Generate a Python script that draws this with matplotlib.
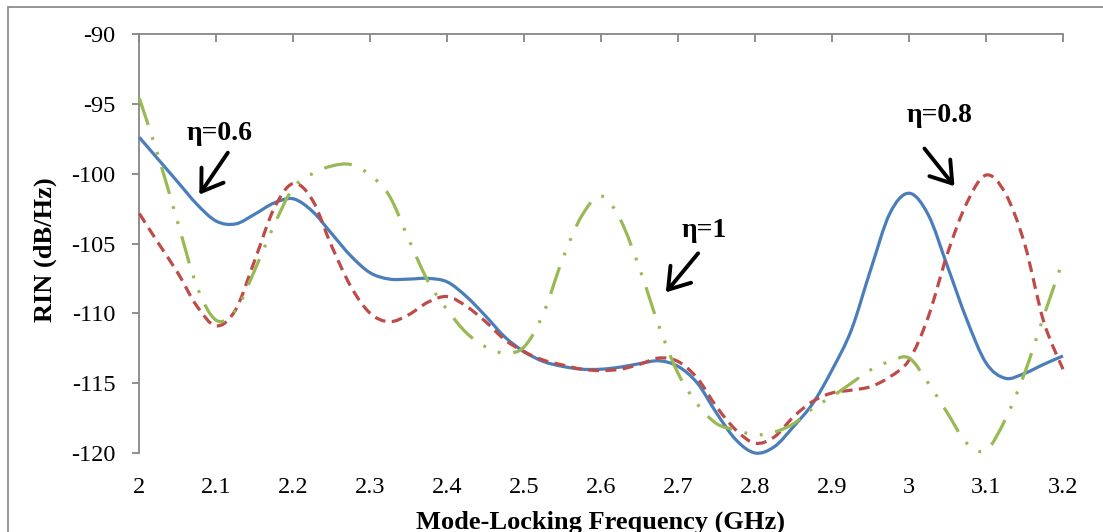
import numpy as np
import matplotlib
matplotlib.use("Agg")
import matplotlib.pyplot as plt
from matplotlib.patches import Rectangle, PathPatch
from matplotlib.path import Path

plt.rcParams['font.family'] = ['Liberation Serif', 'DejaVu Serif']
plt.rcParams['axes.unicode_minus'] = False

# frequency samples (GHz)
freq = np.round(np.arange(2.0, 3.2001, 0.025), 3)

rin_06 = [-97.4, -99.0, -100.6, -102.2, -103.4, -103.6, -102.9, -102.1, -101.8,
          -102.7, -104.3, -105.9, -107.1, -107.55, -107.55, -107.5, -107.75,
          -108.8, -110.2, -111.7, -112.75, -113.45, -113.8, -114.0, -114.0,
          -113.85, -113.6, -113.4, -113.8, -115.0, -117.15, -119.05, -120.0,
          -119.55, -118.1, -116.45, -114.05, -111.2, -106.9, -102.85, -101.4,
          -102.95, -106.65, -110.45, -113.55, -114.65, -114.3, -113.65, -113.05]

rin_08 = [-102.85, -105.0, -107.1, -109.5, -110.9, -109.75, -106.2, -102.5, -100.7,
          -101.9, -105.2, -108.1, -110.0, -110.6, -110.1, -109.2, -108.8,
          -109.5, -110.6, -111.9, -112.75, -113.35, -113.7, -114.0, -114.1,
          -114.0, -113.65, -113.2, -113.45, -114.65, -116.7, -118.35, -119.3,
          -118.85, -117.4, -116.3, -115.7, -115.5, -115.25, -114.55, -113.35,
          -110.25, -105.7, -102.1, -100.1, -101.4, -105.0, -110.6, -114.0]

rin_1 = [-94.6, -98.8, -103.5, -108.1, -110.5, -109.8, -106.9, -103.7, -101.0,
         -100.0, -99.45, -99.35, -100.1, -101.6, -104.7, -107.7, -109.75,
         -111.4, -112.4, -112.85, -112.4, -110.0, -106.1, -103.0, -101.6,
         -103.3, -106.8, -110.9, -114.3, -116.5, -117.9, -118.35, -118.7,
         -118.5, -117.9, -116.8, -115.95, -115.0, -114.05, -113.45, -113.2,
         -115.0, -117.15, -119.3, -119.8, -117.6, -114.3, -110.2, -106.2]

xticks = np.round(np.arange(2.0, 3.2001, 0.1), 1)
xlabels = ['2', '2.1', '2.2', '2.3', '2.4', '2.5', '2.6', '2.7', '2.8', '2.9', '3', '3.1', '3.2']
yticks = [-120, -115, -110, -105, -100, -95, -90]


def smooth_path(x, y):
    # Excel-like "smoothed line": bezier segments through every data point
    x = np.asarray(x, float)
    y = np.asarray(y, float)
    verts = [(x[0], y[0])]
    codes = [Path.MOVETO]
    n = len(x)
    for i in range(n - 1):
        i0, i3 = max(i - 1, 0), min(i + 2, n - 1)
        c1 = (x[i] + (x[i+1] - x[i0]) / 6, y[i] + (y[i+1] - y[i0]) / 6)
        c2 = (x[i+1] - (x[i3] - x[i]) / 6, y[i+1] - (y[i3] - y[i]) / 6)
        verts += [c1, c2, (x[i+1], y[i+1])]
        codes += [Path.CURVE4] * 3
    return Path(verts, codes)


W, H = 1103, 532
fig = plt.figure(figsize=(W/100, H/100), dpi=100)
ax = fig.add_axes([139.3/W, 1-453/H, (1063-139.3)/W, (453-34)/H])

# outer chart frame (runs off right/bottom edge as in the original)
fig.patches.append(Rectangle((8/W, -0.1), 1.2, 1-7/H+0.1, transform=fig.transFigure,
                             fill=False, ec='#8c8c8c', lw=1.3, clip_on=False))

styles = [(rin_06, '#4A7EBB', '-'),
          (rin_08, '#BE4B48', (0, (3.4, 2.0))),
          (rin_1, '#98B954', (0, (8.8, 4.0, 0.9, 4.0, 0.9, 4.0)))]
for vals, col, ls in styles:
    ax.add_patch(PathPatch(smooth_path(freq, vals), fill=False, ec=col, lw=2.3, ls=ls,
                           clip_on=False, zorder=3))

ax.set_xlim(2, 3.2)
ax.set_ylim(-120, -90)
ax.set_xticks(xticks)
ax.set_xticklabels(xlabels)
ax.set_yticks(yticks)

for s in ['right', 'bottom']:
    ax.spines[s].set_visible(False)
for s in ['left', 'top']:
    ax.spines[s].set_color('#868686')
    ax.spines[s].set_linewidth(1.3)

ax.tick_params(axis='x', top=True, bottom=False, labeltop=False, labelbottom=True,
               direction='in', length=5.5, width=1.3, color='#868686', pad=17,
               labelsize=17.5)
ax.tick_params(axis='y', direction='out', length=5, width=1.3, color='#868686', pad=12,
               labelsize=17.5)

fig.text(45/W, 1-250/H, 'RIN (dB/Hz)', rotation=90, ha='center', va='center',
         fontsize=19, fontweight='bold')
fig.text(600/W, 1-522/H, 'Mode-Locking Frequency (GHz)', ha='center', va='center',
         fontsize=19, fontweight='bold')

arrow = dict(arrowstyle='->, head_length=0.6, head_width=0.4', lw=2.8, color='black',
             shrinkA=0, shrinkB=0, mutation_scale=24)
ax.text(2.105, -97.6, 'η=0.6', ha='center', va='baseline', fontsize=20, fontweight='bold')
ax.annotate('', xy=(2.078, -101.5), xytext=(2.115, -98.5), arrowprops=arrow)
ax.text(3.040, -96.3, 'η=0.8', ha='center', va='baseline', fontsize=20, fontweight='bold')
ax.annotate('', xy=(3.059, -100.9), xytext=(3.020, -98.2), arrowprops=arrow)
ax.text(2.734, -104.5, 'η=1', ha='center', va='baseline', fontsize=20, fontweight='bold')
ax.annotate('', xy=(2.684, -108.5), xytext=(2.726, -105.7), arrowprops=arrow)

fig.savefig('out.png', dpi=100)
